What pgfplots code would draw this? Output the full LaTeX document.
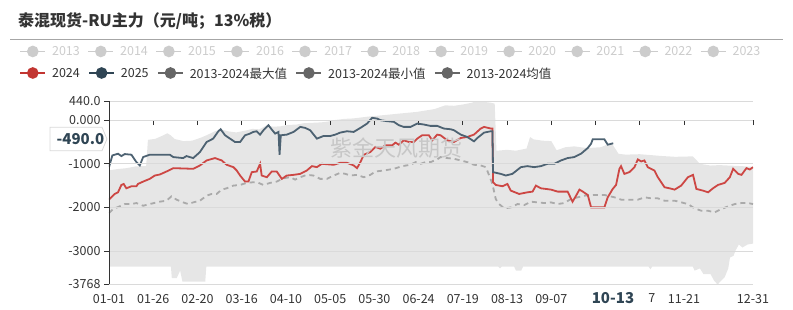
\documentclass[border=0pt]{standalone}
\usepackage{fontspec}
\setmainfont{Noto Sans CJK SC}
\usepackage{pgfplots}
\usepackage{pgfplotstable}
\pgfplotsset{compat=1.18}
\usepgfplotslibrary{fillbetween}
\definecolor{red24}{HTML}{CD4744}
\definecolor{red24l}{HTML}{C23531}
\definecolor{blue25}{HTML}{4D6272}
\definecolor{blue25l}{HTML}{2F4554}
\definecolor{avggray}{HTML}{AAAAAA}
\definecolor{bandgray}{HTML}{E6E6E6}
\definecolor{gridgray}{HTML}{DADADA}
\definecolor{legoff}{HTML}{CCCCCC}
\definecolor{legon}{HTML}{666666}
\definecolor{txt}{HTML}{333333}
\definecolor{ptr}{HTML}{2F4554}

\pgfplotstableread{
d v
0 -1150
5 -1120
10 -1100
15 -1060
21 -1050
22 -450
26 -430
30 -360
33 -300
35 -350
37 -430
42 -480
47 -470
52 -400
56 -330
60 -250
64 -220
68 -260
72 -280
77 -240
81 -200
85 -210
89 -120
93 -150
97 -140
101 -110
106 -100
110 -70
115 -60
120 -50
124 -30
127 0
133 30
138 40
146 80
155 115
165 155
174 190
184 255
190 340
195 330
200 360
205 400
208 440
212 420
216 400
218 380
219 -700
225 -680
230 -700
236 -650
238 -385
240 -440
245 -470
250 -480
253 -690
258 -620
263 -600
270 -640
278 -620
284 -520
288 -770
292 -790
300 -780
306 -800
312 -820
320 -840
330 -830
334 -1000
340 -1040
345 -1030
350 -1040
356 -1050
364 -1070
}\datMax

\pgfplotstableread{
d v
0 -3360
35 -3360
35.5 -3620
38.3 -3620
40.2 -3450
41.5 -3700
54.4 -3700
55 -3360
220 -3360
221 -3400
222 -3360
229 -3360
230 -3450
233 -3450
234 -3360
305 -3360
306 -3420
307 -3360
330 -3360
331 -3450
334 -3400
336 -3530
340 -3530
342 -3680
344 -3768
346 -3680
348 -3600
350 -3400
351 -3150
353 -3110
354 -3000
356 -2850
358 -2920
361 -2850
364 -2830
}\datMin

\pgfplotstableread{
d v
0 -2131
2.3 -2038
6 -1977
8.9 -1923
12.7 -1923
15.5 -1900
19.3 -1962
23 -1923
28.7 -1869
32.5 -1846
35.3 -1746
38.2 -1823
41.9 -1885
44.8 -1923
47.6 -1885
51.4 -1846
55.2 -1731
58 -1692
60.8 -1692
63.7 -1592
66.5 -1562
70.3 -1500
74.1 -1485
77.8 -1438
81.6 -1423
84.5 -1438
87.3 -1485
91.1 -1438
94.8 -1408
98.6 -1331
102.4 -1308
105.2 -1362
108.1 -1308
111.8 -1254
115.6 -1269
119.4 -1346
123.2 -1346
127 -1269
130.7 -1208
133.6 -1231
136.4 -1269
140.2 -1254
144 -1308
147.7 -1254
150.6 -1177
155.3 -1154
161 -1115
165.7 -1054
170.4 -1023
173.3 -962
176.1 -1000
178.9 -962
181.7 -962
185.5 -900
187.4 -846
191.2 -869
195 -885
198.8 -923
202.5 -962
206.3 -1023
210.1 -1038
213 -1077
214.9 -1269
216.7 -1462
218.6 -1808
220.5 -1923
223.4 -2023
227.1 -2000
230.9 -1923
234.7 -1946
238.5 -1869
242.2 -1885
246 -1900
249.8 -1885
253.6 -1923
257.3 -1900
261.1 -1808
264.9 -1769
268.7 -1731
274.3 -1715
280 -1715
285.7 -1769
289.5 -1823
295.2 -1823
298.9 -1823
302.7 -1769
306.5 -1792
310.2 -1792
314 -1846
319.7 -1846
323.5 -1885
327.2 -1923
331 -2023
334.8 -2077
338.6 -2077
342.3 -2115
346.1 -2038
349.9 -1977
353.7 -1923
357.5 -1900
361.2 -1900
364 -1923
}\datAvg

\pgfplotstableread{
d v
0 -1823
1.3 -1769
3.2 -1692
5.1 -1654
7 -1485
8.3 -1462
9.8 -1562
12.7 -1515
15.5 -1515
16.4 -1462
19.3 -1408
23 -1346
25.9 -1269
28.7 -1246
32.5 -1177
36.3 -1100
47.6 -1115
51.4 -1038
55.2 -923
59.9 -869
63.7 -923
66.5 -1023
70.3 -1077
72.2 -1154
74.1 -1269
76.9 -1408
78.8 -1408
80.7 -1192
83.5 -1177
85.4 -1000
86.3 -1269
89.2 -1308
92 -1177
94.8 -1177
97.7 -1346
100.5 -1269
104.3 -1254
108.1 -1231
111.8 -1154
114.7 -1054
117.5 -1077
120.3 -1000
127 -1023
130.7 -977
134.5 -977
138.3 -1038
140.2 -1100
142.1 -962
144 -792
147.7 -731
150.6 -615
153.4 -654
156.2 -577
160 -577
161.9 -515
163.8 -562
166.6 -462
169.5 -500
172.3 -500
174.2 -423
177 -346
180.8 -346
182.7 -462
185.5 -331
187.4 -346
191.2 -462
195 -500
198.8 -408
202.5 -385
206.3 -331
210.1 -192
212 -154
215.8 -192
216.7 -192
217.1 -1423
218.6 -1485
222.4 -1515
225.2 -1462
227.1 -1615
231.8 -1692
236.5 -1654
239.4 -1638
241.3 -1500
244.1 -1562
249.8 -1592
253.6 -1638
259.2 -1638
262 -1869
264 -1731
265.9 -1592
267.8 -1638
270.6 -1715
272.5 -2000
280 -2000
281.9 -1769
284.7 -1577
286.6 -1485
288.5 -1115
289.4 -1054
291.3 -1231
294.1 -1192
297 -1077
298.9 -900
300.8 -946
302.6 -923
304.5 -1077
308.3 -1154
310.2 -1308
314 -1538
316.8 -1562
319.7 -1592
323.4 -1500
327.2 -1308
330.1 -1254
332 -1577
335.7 -1615
338.6 -1654
341.4 -1562
344.2 -1485
348 -1438
350.9 -1308
352.8 -1115
355.6 -1231
357.5 -1254
360.3 -1100
362.2 -1131
364 -1077
}\datYrA

\pgfplotstableread{
d v
0 -1077
1.9 -808
5.1 -769
7 -823
8.9 -777
12.7 -792
15.5 -962
17.4 -1038
19.3 -846
23 -792
34.4 -792
36.3 -846
41.9 -869
43.8 -823
47.6 -869
51.4 -731
55.2 -500
58.9 -423
61.8 -254
63.1 -208
65.6 -346
68.4 -423
71.2 -500
74.1 -500
76.9 -346
79.7 -308
81.6 -269
83.5 -254
85.4 -331
87.3 -231
90.1 -115
92 -215
93.9 -308
95.8 -269
96.4 -792
97.1 -346
100.5 -331
104.3 -269
108.1 -154
110.9 -177
113.7 -231
117.5 -423
121.3 -362
125.1 -362
127.9 -331
130.7 -285
134.5 -254
138.3 -269
142.1 -177
145.9 -77
148.7 54
151.5 38
153.4 0
157.2 -23
161 -38
163.8 -115
166.6 -154
170.4 -154
174.2 -77
178 -100
181.7 -131
185.5 -131
189.3 -192
193.1 -208
195 -231
198.8 -331
202.5 -385
206.3 -485
208.2 -408
212 -285
215.8 -254
216.7 -254
217.1 -1192
221.4 -1231
224.3 -1269
228 -1231
232.8 -1077
236.5 -1054
240.3 -1077
244.1 -1054
247.9 -1000
251.7 -1000
255.5 -923
259.2 -869
263 -846
266.8 -769
270.6 -638
272.5 -538
273.4 -438
280 -438
281.9 -562
285 -530
}\datYrB

\pgfplotsset{
  legimg/.style={legend image code/.code={\draw[mark repeat=2,mark phase=2,##1] plot coordinates {(0pt,0pt) (12.5pt,0pt) (25pt,0pt)};}},
}

\begin{document}
\begin{tikzpicture}
\path (0pt,0pt) rectangle (793pt,310pt);
\node[anchor=base west, inner sep=0pt, text=txt, font=\fontsize{16}{18}\selectfont\bfseries] at (18pt,283pt) {泰混现货-RU主力（元/吨；13\%税）};
\draw[color=black!35, line width=1pt] (10pt,270pt) -- (783pt,270pt);

% background axis: band, grid, left axis, tick labels, first legend row
\begin{axis}[
  at={(109pt,25.5pt)}, anchor=south west, scale only axis,
  width=644pt, height=183.5pt,
  xmin=0, xmax=364, ymin=-3768, ymax=440,
  /pgf/number format/assume math mode=true,
  legimg,
  axis on top,
  axis lines*=left,
  axis line style={-},
  x axis line style={-, draw=gridgray, line width=0.8pt},
  y axis line style={-, draw=txt, line width=0.8pt},
  xtick={0,25,50,75,100,125,150,175,200,225,250,325,364},
  xticklabels={01-01,01-26,02-20,03-16,04-10,05-05,05-30,06-24,07-19,08-13,09-07,11-21,12-31},
  extra x ticks={300},
  extra x tick labels={7},
  extra x tick style={xticklabel style={xshift=12pt}},
  xtick style={draw=none},
  ytick={440,0,-1000,-2000,-3000,-3768},
  yticklabels={440.0,0.000,-1000,-2000,-3000,-3768},
  ytick style={draw=txt, line width=0.8pt},
  tick align=outside, major tick length=5pt,
  ymajorgrids, grid style={gridgray, line width=0.7pt},
  ticklabel style={font=\fontsize{12.5}{14}\selectfont, text=txt},
  xticklabel style={yshift=-1pt},
  legend columns=11,
  legend style={draw=none, fill=none, inner sep=0pt, outer sep=0pt,
    at={(-0.139,1.27)}, anchor=west, text=legoff,
    font=\fontsize{12.5}{14}\selectfont,
    nodes={inner sep=0pt, text depth=0pt},
    /tikz/every odd column/.append style={column sep=6pt},
    /tikz/every even column/.append style={column sep=7.7pt}},
  legend cell align=left,
]
\addplot[name path=mx, draw=none, forget plot] table[x=d,y=v] {\datMax};
\addplot[name path=mn, draw=none, forget plot] table[x=d,y=v] {\datMin};
\addplot[fill=bandgray, draw=none, forget plot] fill between[of=mx and mn];
\addlegendimage{legoff, line width=1.6pt, mark=*, mark size=5pt}
\addlegendentry{2013}
\addlegendimage{legoff, line width=1.6pt, mark=*, mark size=5pt}
\addlegendentry{2014}
\addlegendimage{legoff, line width=1.6pt, mark=*, mark size=5pt}
\addlegendentry{2015}
\addlegendimage{legoff, line width=1.6pt, mark=*, mark size=5pt}
\addlegendentry{2016}
\addlegendimage{legoff, line width=1.6pt, mark=*, mark size=5pt}
\addlegendentry{2017}
\addlegendimage{legoff, line width=1.6pt, mark=*, mark size=5pt}
\addlegendentry{2018}
\addlegendimage{legoff, line width=1.6pt, mark=*, mark size=5pt}
\addlegendentry{2019}
\addlegendimage{legoff, line width=1.6pt, mark=*, mark size=5pt}
\addlegendentry{2020}
\addlegendimage{legoff, line width=1.6pt, mark=*, mark size=5pt}
\addlegendentry{2021}
\addlegendimage{legoff, line width=1.6pt, mark=*, mark size=5pt}
\addlegendentry{2022}
\addlegendimage{legoff, line width=1.6pt, mark=*, mark size=5pt}
\addlegendentry{2023}
\end{axis}

% foreground axis: zero line with ticks, series, second legend row
\begin{axis}[
  at={(109pt,25.5pt)}, anchor=south west, scale only axis,
  width=644pt, height=183.5pt,
  xmin=0, xmax=364, ymin=-3768, ymax=440,
  legimg,
  axis x line=middle, axis y line=none,
  x axis line style={-, draw=txt, line width=0.9pt},
  xtick={0,25,50,75,100,125,150,175,200,225,250,275,300,325,364},
  xticklabels={},
  xtick style={draw=txt, line width=0.9pt},
  xtick align=outside, major tick length=5pt,
  ytick=\empty,
  legend columns=5,
  legend style={draw=none, fill=none, inner sep=0pt, outer sep=0pt,
    at={(-0.139,1.1526)}, anchor=west, text=txt,
    font=\fontsize{12.5}{14}\selectfont,
    nodes={inner sep=0pt, text depth=0pt},
    /tikz/every odd column/.append style={column sep=6pt},
    /tikz/every even column/.append style={column sep=8.5pt}},
  legend cell align=left,
]
\draw[txt, line width=0.9pt] (axis cs:0,0) -- (axis cs:364,0);
\addplot[avggray, line width=1.8pt, dash pattern=on 5pt off 4pt, forget plot] table[x=d,y=v] {\datAvg};
\addplot[red24, line width=1.8pt, forget plot] table[x=d,y=v] {\datYrA};
\addplot[blue25, line width=1.8pt, forget plot] table[x=d,y=v] {\datYrB};
\node[text=black!22, font=\fontsize{22}{24}\selectfont] at (axis cs:162.7,-630) {紫金天风期货};
\addlegendimage{red24l, line width=1.6pt, mark=*, mark size=5pt}
\addlegendentry{2024}
\addlegendimage{blue25l, line width=1.6pt, mark=*, mark size=5pt}
\addlegendentry{2025}
\addlegendimage{legon, line width=1.6pt, mark=*, mark size=5pt}
\addlegendentry{2013-2024最大值}
\addlegendimage{legon, line width=1.6pt, mark=*, mark size=5pt}
\addlegendentry{2013-2024最小值}
\addlegendimage{legon, line width=1.6pt, mark=*, mark size=5pt}
\addlegendentry{2013-2024均值}
\end{axis}

% axis pointer labels
\draw[draw=black!15, fill=white, line width=0.8pt] (50pt,182.7pt) -- (102pt,182.7pt) -- (107pt,171pt) -- (102pt,159.3pt) -- (50pt,159.3pt) -- cycle;
\node[text=ptr, font=\fontsize{15}{17}\selectfont\bfseries, inner sep=0pt] at (80.5pt,171pt) {-490.0};
\node[text=ptr, font=\fontsize{15}{17}\selectfont\bfseries, inner sep=0pt] at (613pt,12pt) {10-13};
\end{tikzpicture}
\end{document}
